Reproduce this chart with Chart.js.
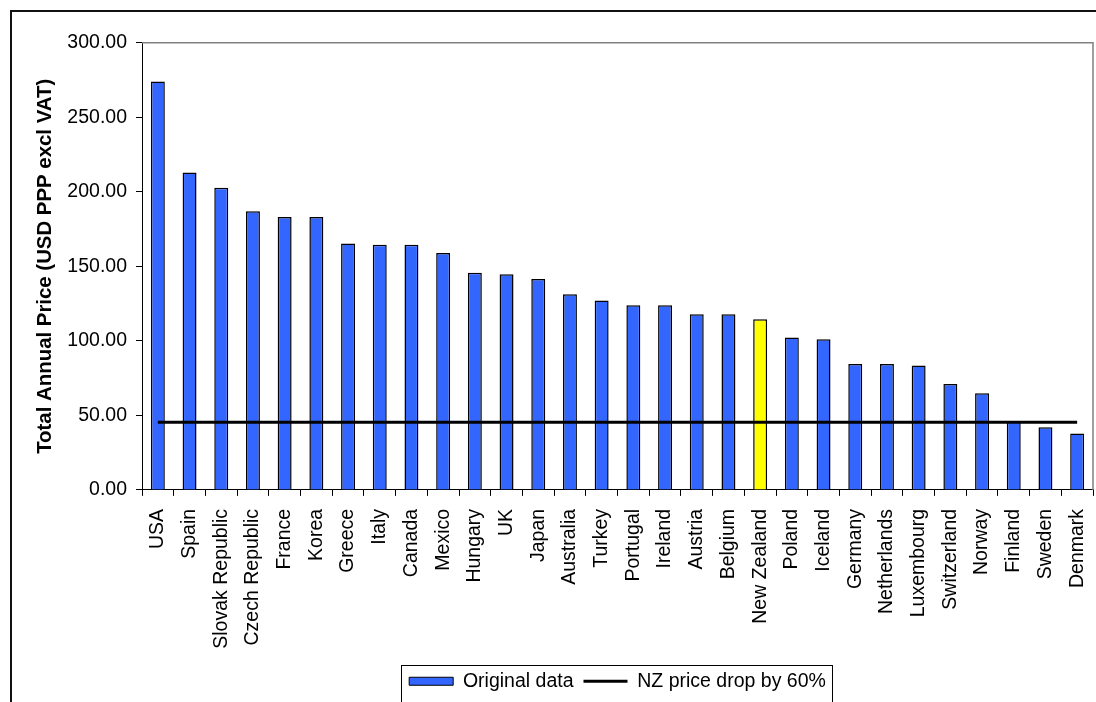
<!DOCTYPE html>
<html><head><meta charset="utf-8">
<script src="https://cdn.jsdelivr.net/npm/chart.js@4/dist/chart.umd.min.js"></script>
<style>
html,body{margin:0;padding:0;background:#fff;overflow:hidden;width:1096px;height:702px;}
#frame{position:absolute;left:10px;top:10px;width:1200px;height:800px;border-left:2px solid #111;border-top:2px solid #111;}
#wrap{position:absolute;left:0;top:0;width:1096px;height:702px;}
</style></head><body>
<div id="frame"></div>
<div id="wrap"><canvas id="c" width="1096" height="702"></canvas></div>
<script>
const countries = ["USA","Spain","Slovak Republic","Czech Republic","France","Korea","Greece","Italy","Canada","Mexico","Hungary","UK","Japan","Australia","Turkey","Portugal","Ireland","Austria","Belgium","New Zealand","Poland","Iceland","Germany","Netherlands","Luxembourg","Switzerland","Norway","Finland","Sweden","Denmark"];
const originalData = [274.0,213.0,202.7,187.0,183.0,183.0,165.3,164.4,164.4,159.0,145.6,144.7,141.5,131.3,127.0,123.9,123.9,117.8,117.8,114.5,102.2,101.0,84.5,84.5,83.4,71.0,64.8,46.2,42.1,37.9];
const nzDropLine = [45.3,45.3,45.3,45.3,45.3,45.3,45.3,45.3,45.3,45.3,45.3,45.3,45.3,45.3,45.3,45.3,45.3,45.3,45.3,45.3,45.3,45.3,45.3,45.3,45.3,45.3,45.3,45.3,45.3,45.3];
const yTicks = [0,50,100,150,200,250,300];
const seriesNames = ["Original data","NZ price drop by 60%"];
const highlight = "New Zealand";

const BLUE = '#3366FF', YELLOW = '#FFFF00';
const FONT = "'Liberation Sans', Arial, sans-serif";
const barColors = countries.map(c => c === highlight ? YELLOW : BLUE);

const frame = {
  id: 'frame',
  afterDraw(chart){
    const ctx = chart.ctx, a = chart.chartArea;
    ctx.save();
    ctx.strokeStyle = '#808080'; ctx.lineWidth = 1.5;
    ctx.beginPath();
    ctx.moveTo(a.left, a.top); ctx.lineTo(a.right, a.top); ctx.lineTo(a.right, a.bottom);
    ctx.stroke();
    const hb = chart.legend.legendHitBoxes;
    if (hb && hb.length){
      let x0 = Infinity, x1 = -Infinity, y0 = Infinity;
      hb.forEach(b => { x0 = Math.min(x0, b.left); x1 = Math.max(x1, b.left + b.width); y0 = Math.min(y0, b.top); });
      ctx.strokeStyle = '#000'; ctx.lineWidth = 1;
      ctx.strokeRect(Math.round(x0 - 8) + 0.5, Math.round(y0 - 7) + 0.5, Math.round(x1 - x0 + 14), 100);
    }
    ctx.restore();
  }
};

new Chart(document.getElementById('c'), {
  type: 'bar',
  data: {
    labels: countries,
    datasets: [
      { label: seriesNames[0], data: originalData, backgroundColor: barColors, borderColor: '#000', borderWidth: 1.5,
        categoryPercentage: 1, barPercentage: 0.44, order: 1 },
      { type: 'line', label: seriesNames[1], data: nzDropLine, borderColor: '#000', borderWidth: 3,
        pointRadius: 0, fill: false, tension: 0, order: 0 }
    ]
  },
  options: {
    responsive: false, animation: false, devicePixelRatio: 1,
    layout: { padding: { left: 0, top: 42.7, right: 3, bottom: 1 } },
    plugins: {
      tooltip: { enabled: false },
      legend: {
        position: 'bottom', fullSize: false,
        labels: {
          usePointStyle: true, pointStyleWidth: 44, boxHeight: 8, color: '#000', padding: 10,
          font: { family: FONT, size: 19.5 },
          sort: (a, b) => a.datasetIndex - b.datasetIndex,
          generateLabels(chart){
            const items = Chart.defaults.plugins.legend.labels.generateLabels(chart);
            items.forEach(it => {
              if (it.datasetIndex === 0){ it.pointStyle = 'rect'; it.fillStyle = BLUE; it.strokeStyle = '#000'; it.lineWidth = 1; }
              else { it.pointStyle = 'line'; it.strokeStyle = '#000'; it.lineWidth = 3; }
            });
            return items;
          }
        }
      }
    },
    scales: {
      x: {
        afterFit(s){ s.height = 171.6; s.paddingLeft = 0; s.paddingRight = 0; },
        grid: { offset: true, drawOnChartArea: false, drawTicks: true, tickLength: 6, color: '#000' },
        border: { display: true, color: '#000', width: 1 },
        ticks: { minRotation: 90, maxRotation: 90, autoSkip: false, padding: 13, color: '#000',
          font: { family: FONT, size: 19.5 } }
      },
      y: {
        min: 0, max: 300,
        afterFit(s){ s.width = 142; s.paddingTop = 0; s.paddingBottom = 0; },
        afterBuildTicks(s){ s.ticks = yTicks.map(v => ({ value: v })); },
        grid: { drawOnChartArea: false, drawTicks: true, tickLength: 6, color: '#000' },
        border: { display: true, color: '#000', width: 1 },
        ticks: { padding: 9, color: '#000', font: { family: FONT, size: 19.5 }, callback: v => Number(v).toFixed(2) },
        title: { display: true, text: 'Total Annual Price (USD PPP excl VAT)', color: '#000',
          font: { family: FONT, size: 20.4, weight: 'bold' }, padding: { top: 33, bottom: 0 } }
      }
    }
  },
  plugins: [frame]
});
</script>
</body></html>
